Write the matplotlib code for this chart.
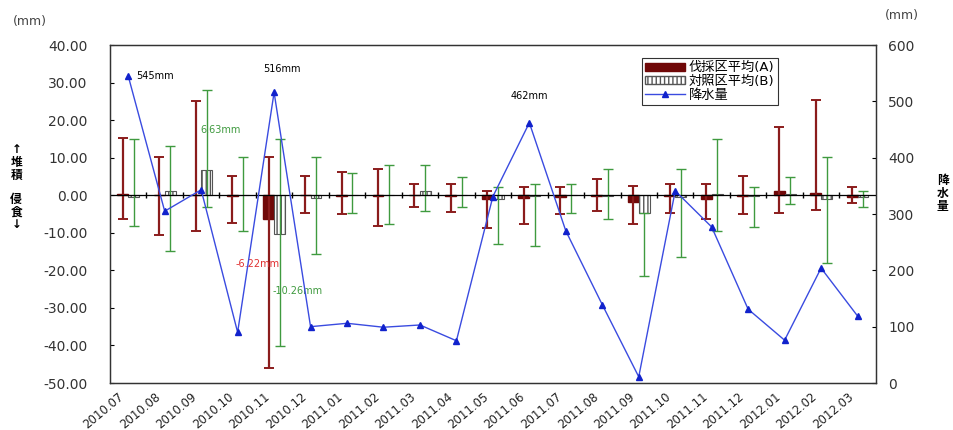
import matplotlib
matplotlib.use("Agg")
import matplotlib.pyplot as plt
import matplotlib.transforms as mtransforms
import numpy as np
from matplotlib.patches import Patch
from matplotlib.lines import Line2D

plt.rcParams['font.family'] = ['DejaVu Sans', 'Noto Sans CJK JP']
plt.rcParams['hatch.color'] = "#8aa88a"

months = ["2010.07", "2010.08", "2010.09", "2010.10", "2010.11", "2010.12",
          "2011.01", "2011.02", "2011.03", "2011.04", "2011.05", "2011.06",
          "2011.07", "2011.08", "2011.09", "2011.10", "2011.11", "2011.12",
          "2012.01", "2012.02", "2012.03"]

A_mean = [0.3, 0.0, 0.0, -0.3, -6.22, 0.0, -0.3, -0.3, 0.0, -0.3, -1.0,
          -0.8, -0.5, -0.3, -1.7, -0.3, -1.0, -0.3, 1.0, 0.5, -0.5]
A_max = [15.3, 10.1, 25.2, 5.1, 10.1, 5.1, 6.1, 7.0, 3.0, 3.0, 1.2,
         2.3, 2.1, 4.2, 2.4, 3.0, 3.0, 5.1, 18.2, 25.3, 2.3]
A_min = [-6.3, -10.6, -9.4, -7.3, -46.1, -4.8, -5.0, -8.1, -3.1, -4.4, -8.7,
         -7.7, -5.0, -4.1, -7.7, -4.8, -6.4, -5.0, -4.7, -4.0, -2.2]

B_mean = [-0.5, 1.2, 6.63, 0.0, -10.26, -0.7, 0.0, 0.0, 1.0, 0.0, -1.1,
          -0.3, 0.0, -0.3, -4.7, -0.5, 0.3, -0.3, 0.3, -1.1, -0.5]
B_max = [15.1, 13.1, 28.0, 10.1, 15.1, 10.1, 6.0, 8.0, 8.0, 4.9, 2.1,
         3.0, 2.9, 7.0, -4.7, 7.0, 15.1, 2.1, 4.9, 10.1, 1.2]
B_min = [-8.2, -14.8, -3.1, -9.5, -40.1, -15.7, -4.6, -7.7, -4.2, -3.2, -13.0,
         -13.4, -4.8, -6.3, -21.5, -16.5, -9.5, -8.5, -2.4, -18.0, -3.2]

rain = [545, 305, 343, 90, 516, 100, 106, 99, 103, 75, 331, 462,
        270, 139, 11, 341, 277, 131, 76, 204, 119]

label_A = "伐採区平均(A)"
label_B = "対照区平均(B)"
label_R = "降水量"

x = np.arange(len(months))
w = 0.3

fig = plt.figure(figsize=(9.54, 4.30), dpi=100)
ax = fig.add_axes([0.1153, 0.1093, 0.8027, 0.786])
ax2 = ax.twinx()

red_bar = "#700808"
red_err = "#8b1c1c"
green_err = "#3f9a3f"
tick_col = "#333333"

A_mean_a = np.array(A_mean)
B_mean_a = np.array(B_mean)
A_err = [A_mean_a - np.array(A_min), np.array(A_max) - A_mean_a]
B_err = [B_mean_a - np.array(B_min), np.array(B_max) - B_mean_a]

ax.bar(x - w / 2, A_mean, width=w, color=red_bar, edgecolor=red_bar, zorder=2)
ax.bar(x + w / 2, B_mean, width=w, color="white", edgecolor="#555555",
       hatch="||||", linewidth=0.8, zorder=2)
ax.errorbar(x - w / 2, A_mean, yerr=A_err, fmt="none", ecolor=red_err,
            elinewidth=1.6, capsize=3.5, capthick=1.4, zorder=3)
ax.errorbar(x + w / 2, B_mean, yerr=B_err, fmt="none", ecolor=green_err,
            elinewidth=1.0, capsize=3.5, capthick=1.0, zorder=3)

ax.axhline(0, color="black", linewidth=0.9, zorder=4)
ax.plot(x[:-1] + 0.5, np.zeros(len(x) - 1), linestyle="none", marker="|",
        markersize=4, color="black", zorder=4)

ax.set_xlim(-0.5, len(months) - 0.5)
ax.set_ylim(-50, 40)
yt = np.arange(-50, 41, 10)
ax.set_yticks(yt)
ax.set_yticklabels([f"{v:.2f}" for v in yt], fontsize=10, color=tick_col)
ax.set_xticks(x)
ax.set_xticklabels(months, rotation=40, ha="right", rotation_mode="anchor",
                   fontsize=8.5, color="#222222")
ax.tick_params(axis="x", length=0, pad=5)
ax.tick_params(axis="y", direction="in", length=3, pad=16)
shift = mtransforms.ScaledTranslation(-10 / 100, 0, fig.dpi_scale_trans)
for lab in ax.get_xticklabels():
    lab.set_transform(lab.get_transform() + shift)

ax2.plot(x, rain, color="#3a4be0", linewidth=1.0, marker="^", markersize=5,
         markerfacecolor="#1122cc", markeredgecolor="#1122cc", zorder=5)
ax2.set_ylim(0, 600)
ax2.set_yticks(np.arange(0, 601, 100))
ax2.tick_params(axis="y", direction="in", length=3, pad=9, labelsize=10,
                labelcolor=tick_col)

for a in (ax, ax2):
    for s in a.spines.values():
        s.set_linewidth(0.9)
        s.set_color("#333333")

# annotations
ax2.annotate("545mm", (x[0], rain[0]), xytext=(6, 0), textcoords="offset points",
             fontsize=7, color="black", va="center")
ax2.annotate("516mm", (x[4], rain[4]), xytext=(6, 17), textcoords="offset points",
             fontsize=7, color="black", ha="center", va="center")
ax2.annotate("462mm", (x[11], rain[11]), xytext=(0, 19), textcoords="offset points",
             fontsize=7, color="black", ha="center", va="center")
ax.annotate("6.63mm", (x[2] + w / 2, B_mean[2]), xytext=(-4.5, 29),
            textcoords="offset points", fontsize=7, color=green_err, va="center")
ax.annotate("-6.22mm", (x[4] - w / 2, A_mean[4]), xytext=(-8, -33),
            textcoords="offset points", fontsize=7, color="#e03030",
            ha="center", va="center")
ax.annotate("-10.26mm", (x[4] + w / 2, B_mean[4]), xytext=(-5.4, -41.5),
            textcoords="offset points", fontsize=7, color=green_err,
            ha="left", va="center")

# axis unit labels and side titles
fig.text(0.014, 0.95, "(mm)", fontsize=9, color="#444444", va="center")
fig.text(0.928, 0.965, "(mm)", fontsize=9, color="#444444", va="center")
fig.text(0.017, 0.623, "↑\n堆\n積", fontsize=8.5, fontweight="bold",
         ha="center", va="center", linespacing=1.0)
fig.text(0.017, 0.507, "侵\n食\n↓", fontsize=8.5, fontweight="bold",
         ha="center", va="center", linespacing=1.0)
fig.text(0.988, 0.551, "降\n水\n量", fontsize=8.5, fontweight="bold",
         ha="center", va="center", linespacing=1.0)

handles = [Patch(facecolor=red_bar, edgecolor=red_bar),
           Patch(facecolor="white", edgecolor="#555555", hatch="||||"),
           Line2D([0], [0], color="#3a4be0", marker="^", markersize=4,
                  markerfacecolor="#1122cc", markeredgecolor="#1122cc", lw=1)]
leg = ax2.legend(handles, [label_A, label_B, label_R], loc="upper left",
                 bbox_to_anchor=(0.6945, 0.9615), fontsize=9.5, frameon=True,
                 fancybox=False, edgecolor="black", handlelength=3.0,
                 handleheight=0.55, borderpad=0.25, labelspacing=0.05,
                 handletextpad=0.3, borderaxespad=0)
leg.get_frame().set_linewidth(0.8)

fig.savefig("out.png", dpi=100)
